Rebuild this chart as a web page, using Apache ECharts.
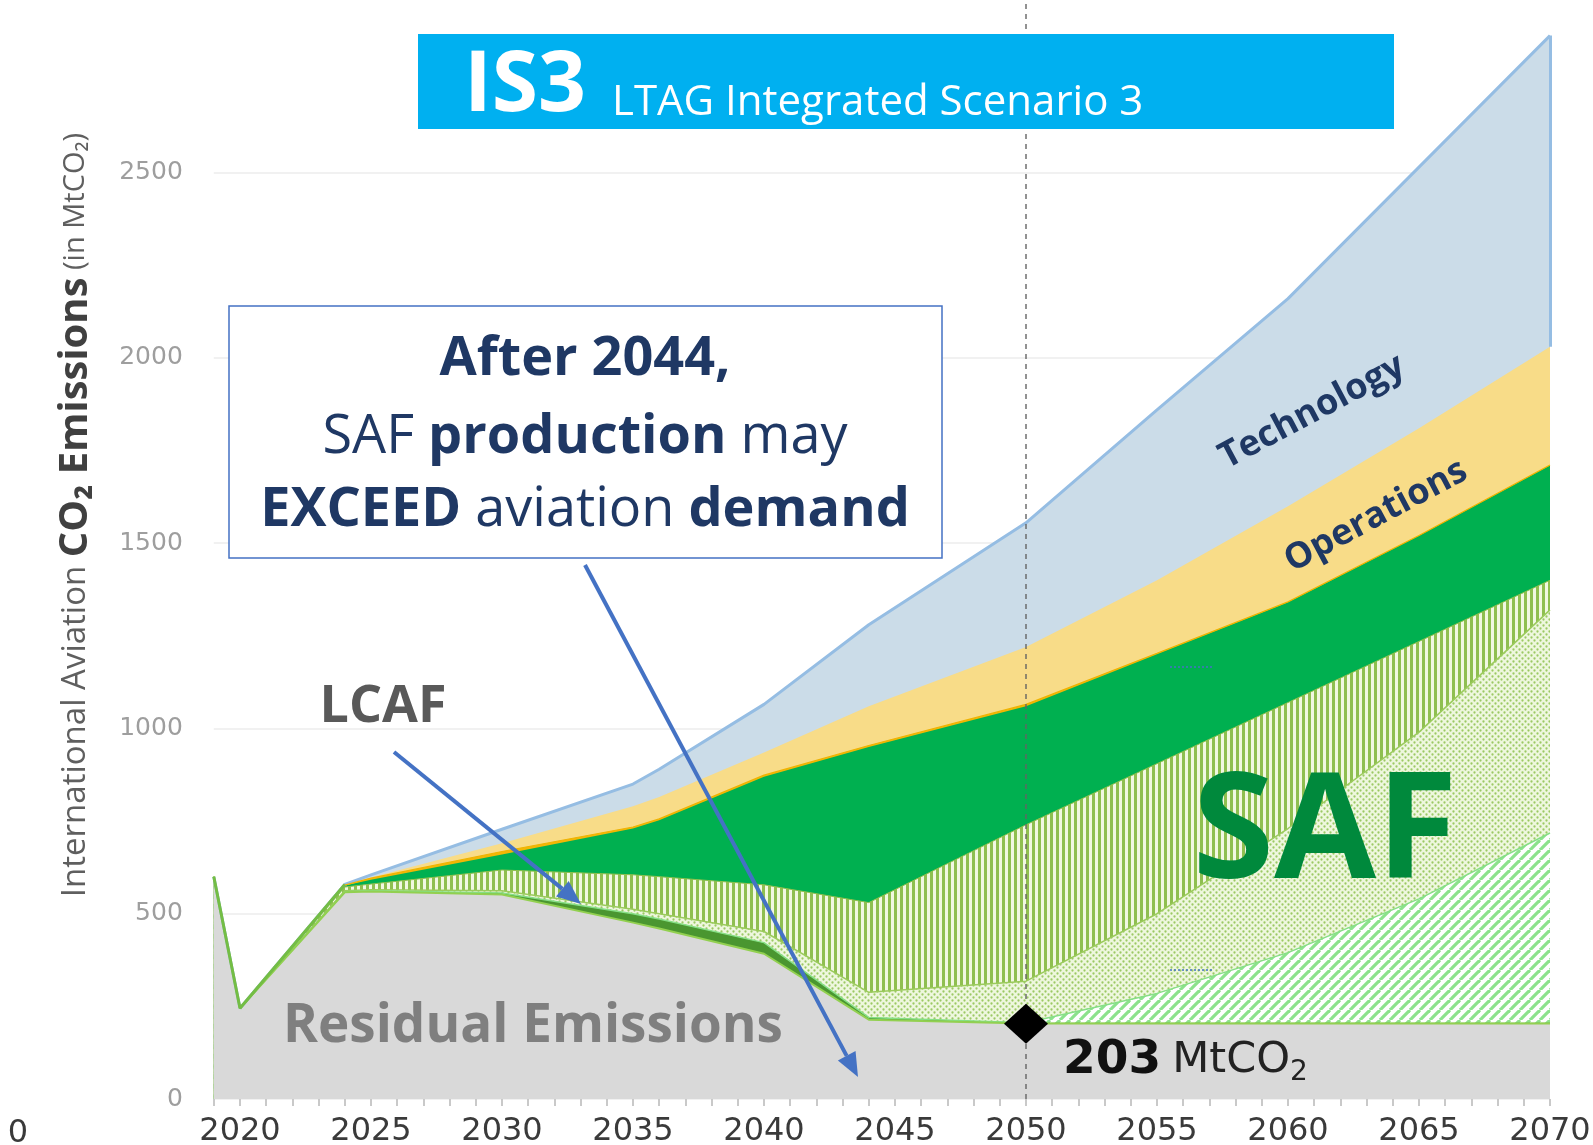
<!DOCTYPE html>
<html>
<head>
<meta charset="utf-8">
<script src="https://cdn.jsdelivr.net/npm/echarts@6/dist/echarts.min.js"></script>
<style>
html,body{margin:0;padding:0;background:#fff;}
#chart{width:1593px;height:1145px;}
</style>
</head>
<body>
<div id="chart"></div>
<script>
// ---- data (MtCO2), cumulative upper boundary of each layer ----
const years           = [2019, 2020, 2024, 2025, 2030, 2035, 2036, 2040, 2044, 2050, 2055, 2060, 2065, 2070];
const residualTop     = [600, 245, 558, 560, 552, 476, 460, 392, 214, 204, 204, 204, 204, 204];
const lcafTop         = [600, 245, 559, 562, 556, 500, 486, 422, 220, 206, 206, 206, 206, 206];
const safDiagTop      = [600, 245, 559, 562, 556, 500, 486, 422, 220, 206, 285, 395, 540, 718];
const safDotTop       = [600, 245, 562, 565, 562, 512, 500, 452, 288, 318, 500, 730, 990, 1320];
const safStripeTop    = [600, 245, 572, 580, 618, 605, 600, 578, 530, 740, 905, 1070, 1235, 1400];
const safSolidTop     = [600, 245, 576, 592, 660, 730, 752, 870, 950, 1060, 1200, 1340, 1520, 1710];
const opsAmberTop     = [600, 245, 577, 596, 668, 734, 756, 874, 954, 1065, 1203, 1342, 1521, 1711];
const operationsTop   = [600, 245, 578, 598, 690, 790, 815, 935, 1060, 1220, 1400, 1600, 1810, 2030];
const technologyTop   = [600, 245, 579, 605, 728, 850, 890, 1065, 1280, 1555, 1860, 2160, 2515, 2870];
const marker2050      = [2050, 203];
const xLabelStep      = 5;

function pattern(kind){
  const c = document.createElement('canvas');
  const g = c.getContext('2d');
  if (kind === 'vert') {
    c.width = 6; c.height = 6;
    g.fillStyle = '#f1f8e2'; g.fillRect(0,0,6,6);
    g.fillStyle = '#8fbf50'; g.fillRect(0,0,3,6);
  } else if (kind === 'dots') {
    c.width = 6; c.height = 6;
    g.fillStyle = '#eef7de'; g.fillRect(0,0,6,6);
    g.fillStyle = '#9cc964';
    g.beginPath(); g.arc(1.5,1.5,1.15,0,Math.PI*2); g.fill();
    g.beginPath(); g.arc(4.5,4.5,1.15,0,Math.PI*2); g.fill();
  } else {
    c.width = 10; c.height = 10;
    g.fillStyle = '#ffffff'; g.fillRect(0,0,10,10);
    g.strokeStyle = '#8ce28c'; g.lineWidth = 3.2;
    for (const k of [-10,0,10]) { g.beginPath(); g.moveTo(k,10); g.lineTo(k+10,0); g.stroke(); }
  }
  return { image: c, repeat: 'repeat' };
}

function pts(arr){ return years.map((y,i)=>[y, arr[i]]); }
function area(name, arr, fill, lineColor, lineWidth, extra){
  return Object.assign({
    type:'line', name, data: pts(arr), symbol:'none', showSymbol:false, smooth:false, silent:true,
    lineStyle: lineWidth ? {color: lineColor, width: lineWidth} : {width:0, opacity:0},
    areaStyle: {color: fill, opacity:1}
  }, extra || {});
}

const last = years.length - 1;
const series = [
  area('Technology', technologyTop, '#cbdce8', '#95bde3', 3, {
    markLine: { silent:true, symbol:'none', label:{show:false},
      lineStyle:{color:'#95bde3', width:3, type:'solid'},
      data: [[{coord:[years[last], operationsTop[last]]},{coord:[years[last], technologyTop[last]]}]] }
  }),
  area('Operations', operationsTop, '#f8dc88'),
  area('Operations (amber)', opsAmberTop, '#f2b705', '#efb300', 1.2),
  area('SAF', safSolidTop, '#00b050'),
  area('SAF striped', safStripeTop, pattern('vert'), '#8fc04e', 1),
  area('SAF dotted', safDotTop, pattern('dots'), '#9bcb5c', 1.5),
  area('SAF hatched', safDiagTop, pattern('diag'), '#86df86', 1.5),
  area('LCAF', lcafTop, '#4a9630'),
  area('Residual Emissions', residualTop, '#d9d9d9', '#92d050', 2),
  { type:'line', name:'edge', data: pts(technologyTop).slice(0,3), symbol:'none', silent:true,
    lineStyle:{color:'#74bd45', width:3} },
  { type:'scatter', name:'2050', data:[marker2050], symbol:'diamond', symbolSize:[44,40], silent:true,
    itemStyle:{color:'#000', opacity:1},
    label:{show:true, position:'right', distance:15, offset:[0,37],
      formatter: p => '{n|' + p.value[1] + '}{g| }{u|MtCO}{s|2}',
      rich:{ n:{fontFamily:'DejaVu Sans', fontWeight:'bold', fontSize:47, color:'#111'},
             g:{fontSize:40},
             u:{fontFamily:'DejaVu Sans', fontSize:43, color:'#222'},
             s:{fontFamily:'DejaVu Sans', fontSize:28, color:'#222', padding:[24,0,0,0]} } },
    markLine:{ silent:true, symbol:'none', label:{show:false},
      lineStyle:{color:'rgba(100,100,100,0.7)', width:2, type:[5,5]},
      data:[{xAxis: marker2050[0]}] },
    z: 5
  }
];

function arrow(x1,y1,x2,y2){
  const a = Math.atan2(y2-y1, x2-x1), L = 24, W = 10;
  const bx = x2 - L*Math.cos(a), by = y2 - L*Math.sin(a);
  return [
    {type:'line', z:100, shape:{x1, y1, x2:bx, y2:by}, style:{stroke:'#4472c4', lineWidth:4}},
    {type:'polygon', z:100, shape:{points:[[x2,y2],[bx+W*Math.sin(a), by-W*Math.cos(a)],[bx-W*Math.sin(a), by+W*Math.cos(a)]]}, style:{fill:'#4472c4'}}
  ];
}

const navy = '#1f3864';
const graphic = [
  // title banner
  {type:'rect', z:100, shape:{x:418, y:34, width:976, height:95}, style:{fill:'#00b0f0'}},
  {type:'text', z:101, x:464, y:87, style:{text:'IS3', fontFamily:'Open Sans', fontWeight:'bold', fontSize:84, fill:'#fff', align:'left', verticalAlign:'middle'}},
  {type:'text', z:101, x:612, y:103, style:{text:'LTAG Integrated Scenario 3', fontFamily:'Open Sans', fontSize:42, fill:'#fff', align:'left', verticalAlign:'middle'}},
  // callout box
  {type:'rect', z:100, shape:{x:229, y:306, width:713, height:252}, style:{fill:'#fff', stroke:'#4472c4', lineWidth:1.5}},
  {type:'text', z:101, x:585, y:360, style:{text:'{b|After 2044,}', align:'center', verticalAlign:'middle',
    rich:{b:{fontFamily:'Open Sans', fontWeight:'bold', fontSize:54, fill:navy}}}},
  {type:'text', z:101, x:585, y:438, style:{text:'{r|SAF }{b|production}{r| may}', align:'center', verticalAlign:'middle',
    rich:{b:{fontFamily:'Open Sans', fontWeight:'bold', fontSize:54, fill:navy}, r:{fontFamily:'Open Sans', fontSize:54, fill:navy}}}},
  {type:'text', z:101, x:585, y:511, style:{text:'{b|EXCEED}{r| aviation }{b|demand}', align:'center', verticalAlign:'middle',
    rich:{b:{fontFamily:'Open Sans', fontWeight:'bold', fontSize:54, fill:navy}, r:{fontFamily:'Open Sans', fontSize:54, fill:navy}}}},
  ...arrow(585,565,858,1077),
  ...arrow(394,752,581,904),
  // in-chart labels
  {type:'text', z:101, x:383, y:707, style:{text:'LCAF', fontFamily:'Open Sans', fontWeight:'bold', fontSize:52, fill:'#595959', align:'center', verticalAlign:'middle'}},
  {type:'text', z:101, x:533, y:1027, style:{text:'Residual Emissions', fontFamily:'Open Sans', fontWeight:'bold', fontSize:53, fill:'#7f7f7f', align:'center', verticalAlign:'middle'}},
  {type:'text', z:101, x:1325, y:836, style:{text:'SAF', fontFamily:'Open Sans', fontWeight:'bold', fontSize:148, fill:'#00893c', align:'center', verticalAlign:'middle'}},
  {type:'text', z:101, x:1312, y:412, rotation:0.49, style:{text:'Technology', fontFamily:'Open Sans', fontWeight:'bold', fontSize:36, fill:navy, align:'center', verticalAlign:'middle'}},
  {type:'text', z:101, x:1376, y:516, rotation:0.49, style:{text:'Operations', fontFamily:'Open Sans', fontWeight:'bold', fontSize:36, fill:navy, align:'center', verticalAlign:'middle'}},
  // y-axis title
  {type:'text', z:101, x:76, y:515, rotation:Math.PI/2, style:{
    text:'{a|International Aviation }{b|CO₂ Emissions}{c| (in MtCO₂)}', align:'center', verticalAlign:'middle',
    rich:{ a:{fontFamily:'Open Sans', fontSize:33, fill:'#5f5f5f'},
           b:{fontFamily:'Open Sans', fontWeight:'bold', fontSize:40, fill:'#404040'},
           c:{fontFamily:'Open Sans', fontSize:29, fill:'#5f5f5f'} } }},
  // cut-off left axis label
  {type:'text', z:101, x:18, y:1134, style:{text:'0', fontFamily:'DejaVu Sans', fontSize:32, fill:'#3a3a3a', align:'center', verticalAlign:'middle'}},
  // small dotted marks
  {type:'line', z:101, shape:{x1:1170, y1:667, x2:1214, y2:667}, style:{stroke:'#4472c4', lineWidth:1.5, lineDash:[2,2]}},
  {type:'line', z:101, shape:{x1:1170, y1:970, x2:1214, y2:970}, style:{stroke:'#4472c4', lineWidth:1.5, lineDash:[2,2]}}
];

const chart = echarts.init(document.getElementById('chart'), null, {renderer:'canvas'});
chart.setOption({
  animation:false,
  backgroundColor:'#fff',
  grid:{left:213.8, right:43, top:-12.6, bottom:46, containLabel:false, outerBoundsMode:'none'},
  xAxis:{type:'value', min:2019, max:2070, interval:1,
    axisLine:{show:false},
    axisTick:{show:true, length:7, lineStyle:{color:'#c9c9c9', width:2}},
    axisLabel:{formatter: v => (v % xLabelStep === 0 ? String(v) : ''), fontFamily:'DejaVu Sans', fontSize:32, color:'#3a3a3a', margin:17},
    splitLine:{show:false}},
  yAxis:{type:'value', min:0, max:3000, interval:500,
    axisLine:{show:false}, axisTick:{show:false},
    axisLabel:{fontFamily:'DejaVu Sans', fontSize:25, color:'#9e9e9e', margin:31, formatter: v => (v > 2500 ? '' : String(v))},
    splitLine:{lineStyle:{color:'#ececec', width:1.5}}},
  series: series,
  graphic: graphic
});
</script>
</body>
</html>
